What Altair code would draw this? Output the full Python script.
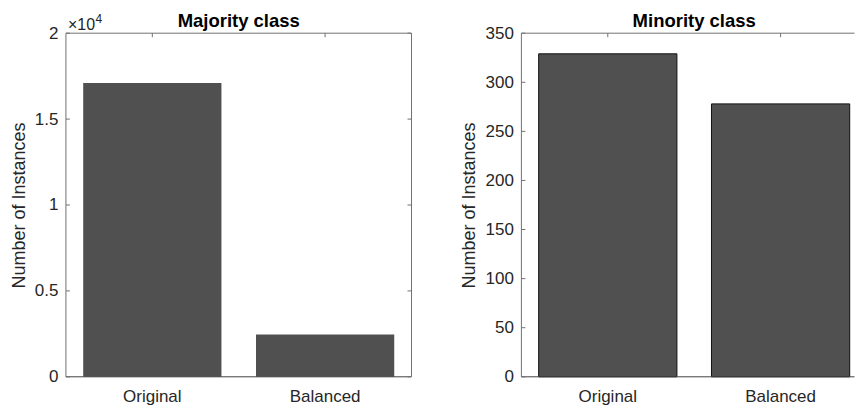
import altair as alt
import pandas as pd

# Instance counts per class, before and after balancing
categories = ["Original", "Balanced"]
majority_counts = [17100, 2460]
minority_counts = [329, 278]

# y-axis tick values for each panel
majority_ticks = [0, 5000, 10000, 15000, 20000]
minority_ticks = [0, 50, 100, 150, 200, 250, 300, 350]

FONT = "Liberation Sans"
TEXT = "#262626"
BAR_FILL = "#505050"
BOX = "#707070"
BOTTOM = "#404040"
PLOT_W = 346
PLOT_H = 344
RIGHT_W = 334          # the right panel runs off the canvas edge
TICK_LEN = 4


def one_row():
    return pd.DataFrame({"k": [0]})


def band_scale(view_w):
    # keep the same step (173 px) and outer gap as a full 346 px wide panel
    step = PLOT_W / 2.0
    p_outer = (view_w / step - 1.8) / 2.0
    align = (0.1 * step) / (view_w - 1.8 * step)
    return alt.Scale(domain=categories, paddingInner=0.2,
                     paddingOuter=p_outer, align=min(1.0, align))


def panel(counts, ticks, ymax, title, view_w, outlined, right_box,
          label_expr=None, title_x=-41, multiplier=False):
    bars_df = pd.DataFrame({"category": categories, "count": counts})
    ticks_df = pd.DataFrame({"v": ticks})
    cat_df = pd.DataFrame({"category": categories})

    xscale = band_scale(view_w)
    yscale = alt.Scale(domain=[0, ymax], nice=False, zero=True)

    x_axis = alt.Axis(title=None, labelAngle=0, labelFont=FONT, labelFontSize=17,
                      labelColor=TEXT, labelPadding=12, domain=False, ticks=False,
                      tickSize=0, grid=False)
    y_kw = dict(title="Number of Instances", values=ticks, labelFont=FONT,
                labelFontSize=17, labelColor=TEXT, labelPadding=8, domain=False,
                ticks=False, tickSize=0, grid=False, titleFont=FONT,
                titleFontSize=18, titleFontWeight="normal", titleColor=TEXT,
                titleAngle=270, titleX=title_x, titleY=PLOT_H / 2,
                titleAlign="center", titleBaseline="alphabetic")
    if label_expr:
        y_kw["labelExpr"] = label_expr
    y_axis = alt.Axis(**y_kw)

    def xenc(field="category:N"):
        return alt.X(field, sort=categories, scale=xscale, axis=x_axis,
                     title=None)

    def yenc(field):
        return alt.Y(field, scale=yscale, axis=y_axis,
                     title="Number of Instances")

    bar_kw = dict(fill=BAR_FILL)
    if outlined:
        bar_kw.update(stroke="#111111", strokeWidth=1)
    bars = alt.Chart(bars_df).mark_bar(**bar_kw).encode(
        x=xenc(), y=yenc("count:Q"))

    layers = [bars]

    # box outline
    layers.append(alt.Chart(one_row()).mark_rule(color=BOX, strokeWidth=1).encode(
        x=alt.value(0), y=alt.value(0), y2=alt.value(PLOT_H)))
    layers.append(alt.Chart(one_row()).mark_rule(color=BOX, strokeWidth=1).encode(
        x=alt.value(0), x2=alt.value(view_w - 0.5), y=alt.value(0)))
    layers.append(alt.Chart(one_row()).mark_rule(color=BOTTOM, strokeWidth=1).encode(
        x=alt.value(0), x2=alt.value(view_w - 0.5), y=alt.value(PLOT_H)))

    # inward ticks on the left edge
    layers.append(alt.Chart(ticks_df).mark_rule(color=BOX, strokeWidth=1).encode(
        y=yenc("v:Q"), x=alt.value(0), x2=alt.value(TICK_LEN)))
    # inward ticks on the top edge at each category
    layers.append(alt.Chart(cat_df).mark_rule(color=BOX, strokeWidth=1).encode(
        x=xenc(), y=alt.value(0), y2=alt.value(TICK_LEN)))

    if right_box:
        layers.append(alt.Chart(one_row()).mark_rule(color=BOX, strokeWidth=1).encode(
            x=alt.value(PLOT_W), y=alt.value(0), y2=alt.value(PLOT_H)))
        layers.append(alt.Chart(ticks_df).mark_rule(color=BOX, strokeWidth=1).encode(
            y=yenc("v:Q"),
            x=alt.value(PLOT_W - TICK_LEN), x2=alt.value(PLOT_W)))

    # panel title, centred on the full 346 px panel
    layers.append(alt.Chart(one_row()).mark_text(
        text=title, font=FONT, fontSize=18.5, fontWeight="bold", color="#000000",
        align="center", baseline="alphabetic").encode(
        x=alt.value(PLOT_W / 2), y=alt.value(-6.5)))

    if multiplier:
        layers.append(alt.Chart(one_row()).mark_text(
            text="×10", font=FONT, fontSize=16, color=TEXT,
            align="left", baseline="alphabetic").encode(
            x=alt.value(2), y=alt.value(-3)))
        layers.append(alt.Chart(one_row()).mark_text(
            text="4", font=FONT, fontSize=12, color=TEXT,
            align="left", baseline="alphabetic").encode(
            x=alt.value(29.5), y=alt.value(-10)))
        # invisible corner that fixes the outer margin
        layers.append(alt.Chart(one_row()).mark_rule(opacity=0, strokeWidth=1).encode(
            x=alt.value(-65.5), x2=alt.value(-65.5),
            y=alt.value(-32.5), y2=alt.value(-32.5)))

    return alt.layer(*layers).properties(width=view_w, height=PLOT_H)


left = panel(majority_counts, majority_ticks, 20000, "Majority class",
             view_w=PLOT_W, outlined=False, right_box=True,
             label_expr="format(datum.value / 10000, '~g')", title_x=-41,
             multiplier=True)
right = panel(minority_counts, minority_ticks, 350, "Minority class",
              view_w=RIGHT_W, outlined=True, right_box=False, title_x=-47)

chart = alt.hconcat(left, right, spacing=110, bounds="flush").properties(
    padding=0
).configure_view(stroke="transparent")

chart.save("out.html", embed_options={"renderer": "svg", "actions": False})
